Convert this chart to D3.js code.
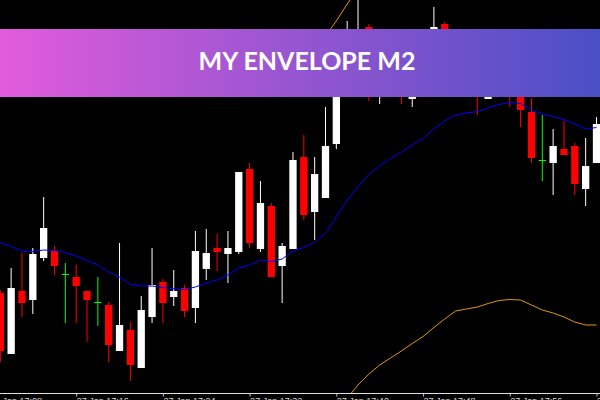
<!DOCTYPE html>
<html>
<head>
<meta charset="utf-8">
<script src="https://cdn.jsdelivr.net/npm/d3@7"></script>
<style>
  html, body { margin: 0; padding: 0; background: #000; }
  svg { display: block; }
</style>
</head>
<body>
<div id="chart"></div>
<script>
// M1 bars, 27 Jan, prices in points
var barTimes = ["17:09","17:10","17:11","17:12","17:13","17:14","17:15","17:16","17:17","17:18",
                "17:19","17:20","17:21","17:22","17:23","17:24","17:25","17:26","17:27","17:28",
                "17:29","17:30","17:31","17:32","17:33","17:34","17:35","17:36","17:37","17:38",
                "17:39","17:40","17:41","17:42","17:43","17:44","17:45","17:46","17:47","17:48",
                "17:49","17:50","17:51","17:52","17:53","17:54","17:55","17:56","17:57","17:58",
                "17:59","18:00","18:01","18:02","18:03","18:04"];

var open  = [907,846,909,900,942,949,926,923,909,898, 895,849,870,832,883,918,903,912,892,931,
             952,946,948,1031,951,994,934,951,1043,988, 1002,1056,1118,1150,1173,1105,1138,1130,1101,1138,
             1140,1176,1132,1112,1132,1101,1128,1120,1115,1088, 1040,1037,1051,1054,1011,1037];
var high  = [910,932,947,952,1003,954,937,935,909,923, 898,957,878,904,952,921,930,915,969,971,
             966,969,1028,1037,1019,997,957,1048,1065,1043, 1093,1130,1179,1205,1176,1150,1150,1145,1155,1167,
             1193,1178,1140,1150,1145,1140,1145,1140,1130,1102, 1085,1071,1079,1057,1062,1083];
var low   = [838,846,883,886,939,925,877,877,858,874, 838,849,819,832,877,877,894,883,877,920,
             929,917,946,952,948,923,897,951,980,960, 1002,1051,1112,1145,1099,1096,1108,1096,1093,1130,
             1132,1122,1108,1106,1085,1101,1107,1093,1073,1037, 1019,1005,1045,1005,994,1037];
var close = [849,912,897,946,972,934,926,914,900,898, 855,875,835,890,915,897,909,889,949,947,
             948,952,1028,957,997,923,954,1040,985,1026, 1054,1122,1155,1165,1125,1140,1120,1108,1140,1160,
             1173,1130,1115,1134,1110,1130,1115,1106,1090,1042, 1040,1054,1045,1016,1034,1076];

// moving average and envelope bands
var maLine = [957.5,953.7,949,948.5,950,949.5,947.5,944,939.5,935, 928,923,915.7,914,914,912.5,911.3,910.5,913,917,
              920,925,932,935,940,938.5,941,949,952.5,958, 966.5,983.5,1000,1013.5,1025.5,1034,1041.5,1048,1055,1061.5,
              1071,1079,1085,1087,1088.5,1092,1095.5,1097.7,1096.5,1090, 1086,1083.5,1080.5,1076,1071,1072.5];
var envUpper = [1154,1151,1146,1145,1147,1146,1144,1141,1136,1132, 1125,1120,1113,1111,1111,1109,1108,1107,1110,1114,
                1117,1122,1129,1132,1137,1135,1138,1146,1150,1155, 1164,1179,1196,1211,null,null,null,null,null,null,
                null,null,null,null,null,null,null,null,null,null, null,null,null,null,null,null];
var envLower = [null,null,null,null,null,null,null,null,null,null, null,null,null,null,null,null,null,null,null,null,
                null,null,null,null,null,null,null,null,null,761, 770,787,802,815,826,835,842,849,856.5,863.5,
                872.5,881,889,891,893,896.5,899.5,900.5,900,895, 890,887,883,878,875,875];

var tickTimes = ["17:08","17:16","17:24","17:32","17:40","17:48","17:56","18:04"];
var title = "MY ENVELOPE M2";

var width = 600, height = 400, axisY = 393;

var parseTime = d3.timeParse("%Y-%m-%d %H:%M");
function toDate(t) { return parseTime("2020-01-27 " + t); }

var bars = barTimes.map(function(t, i) {
    return { t: toDate(t), o: open[i], h: high[i], l: low[i], c: close[i] };
});

var x = d3.scaleTime()
    .domain([bars[0].t, bars[bars.length - 1].t])
    .range([0.3, 596.5]);
var y = d3.scaleLinear().domain([800, 1200]).range([400, 0]);
var bodyW = 7.3;

var svg = d3.select("#chart").append("svg")
    .attr("width", width)
    .attr("height", height);

svg.append("rect").attr("width", width).attr("height", height).attr("fill", "#000");

var defs = svg.append("defs");
defs.append("clipPath").attr("id", "plot-clip")
    .append("rect").attr("x", 0).attr("y", 0).attr("width", width).attr("height", axisY);

var grad = defs.append("linearGradient").attr("id", "banner-grad")
    .attr("x1", "0%").attr("x2", "100%").attr("y1", "0%").attr("y2", "0%");
grad.append("stop").attr("offset", "0%").attr("stop-color", "#e25bdb");
grad.append("stop").attr("offset", "100%").attr("stop-color", "#4a4fc6");

var plot = svg.append("g").attr("clip-path", "url(#plot-clip)");

function barColor(d) {
    if (d.o === d.c) return "#00ff00";
    return d.c > d.o ? "#ffffff" : "#ff0000";
}

// wicks
plot.append("g").selectAll("line")
    .data(bars)
    .enter().append("line")
    .attr("x1", function(d) { return x(d.t); })
    .attr("x2", function(d) { return x(d.t); })
    .attr("y1", function(d) { return y(d.h); })
    .attr("y2", function(d) { return y(d.l); })
    .attr("stroke", barColor)
    .attr("stroke-width", 1);

// bodies
plot.append("g").selectAll("rect")
    .data(bars)
    .enter().append("rect")
    .attr("x", function(d) { return x(d.t) - bodyW / 2; })
    .attr("width", bodyW)
    .attr("y", function(d) { return y(Math.max(d.o, d.c)); })
    .attr("height", function(d) { return Math.max(1, Math.abs(y(d.o) - y(d.c))); })
    .attr("fill", barColor);

function seriesLine(values) {
    return d3.line()
        .defined(function(d) { return d != null; })
        .x(function(d, i) { return x(bars[i].t); })
        .y(function(d) { return y(d); })(values);
}

plot.append("path").attr("d", seriesLine(maLine))
    .attr("fill", "none").attr("stroke", "#0000ff").attr("stroke-width", 1);
plot.append("path").attr("d", seriesLine(envUpper))
    .attr("fill", "none").attr("stroke", "#e09a00").attr("stroke-width", 1);
plot.append("path").attr("d", seriesLine(envLower))
    .attr("fill", "none").attr("stroke", "#e09a00").attr("stroke-width", 1);

// time axis
var xAxis = d3.axisBottom(x)
    .tickValues(tickTimes.map(toDate))
    .tickFormat(d3.timeFormat("%d %b %H:%M"))
    .tickSizeOuter(0)
    .tickSize(3);

var ax = svg.append("g")
    .attr("transform", "translate(0," + (axisY + 0.5) + ")")
    .call(xAxis);
ax.select(".domain").remove();
ax.selectAll(".tick line").attr("stroke", "#c0c0c0");
ax.selectAll(".tick text")
    .attr("fill", "#d8d8d8")
    .attr("y", 10)
    .attr("dy", 0)
    .attr("text-anchor", "start")
    .style("font-family", "'Liberation Sans', Arial, sans-serif")
    .style("font-size", "9px");
ax.append("line")
    .attr("x1", 0).attr("x2", width)
    .attr("stroke", "#e0e0e0").attr("stroke-width", 1);

// title banner
svg.append("rect")
    .attr("x", 0).attr("y", 29)
    .attr("width", width).attr("height", 68)
    .attr("fill", "url(#banner-grad)");
svg.append("text")
    .attr("x", 307).attr("y", 70)
    .attr("text-anchor", "middle")
    .attr("fill", "#ffffff")
    .style("font-family", "Lato, 'Open Sans', sans-serif")
    .style("font-weight", 700)
    .style("font-size", "25px")
    .text(title);
</script>
</body>
</html>
